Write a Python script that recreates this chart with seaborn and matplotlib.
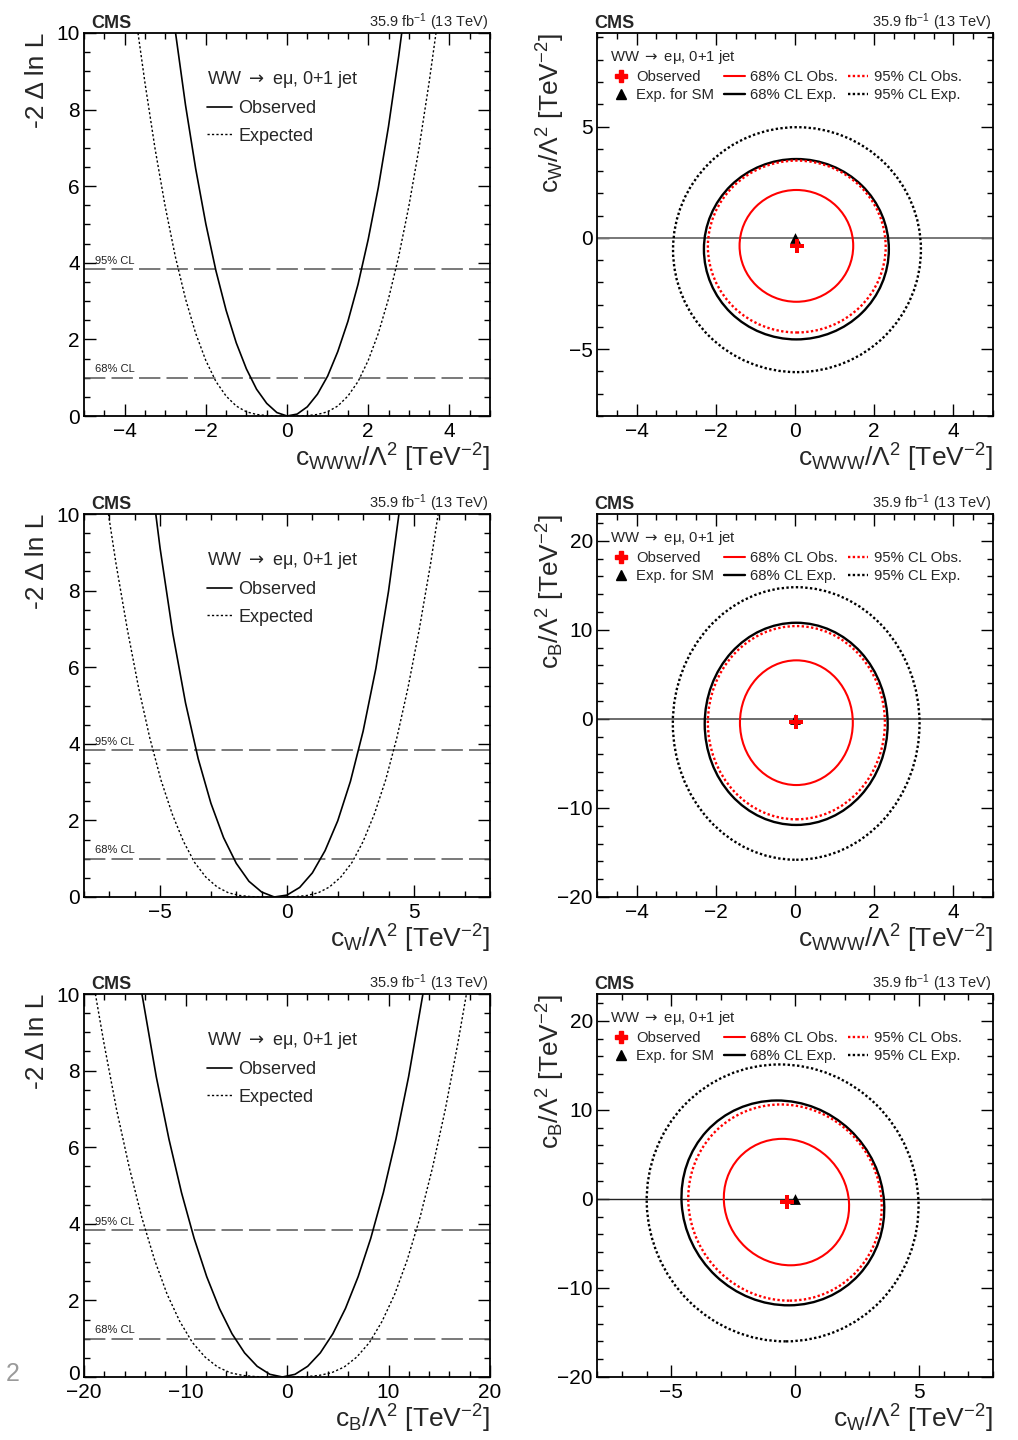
import matplotlib
matplotlib.use("Agg")
import matplotlib.pyplot as plt
import matplotlib.transforms as mtransforms
from matplotlib.patches import Ellipse
from matplotlib.lines import Line2D
from matplotlib.ticker import MultipleLocator
import pandas as pd
import seaborn as sns

# ------------------------------------------------------------------ data
# 1D likelihood scans  (-2 Delta ln L)
cwww_obs_x = [-2.75, -2.5, -2.25, -2.0, -1.75, -1.5, -1.25, -1.0, -0.75, -0.5, -0.25, 0.0,
              0.25, 0.5, 0.75, 1.0, 1.25, 1.5, 1.75, 2.0, 2.25, 2.5, 2.75, 2.9]
cwww_obs_y = [10.04, 8.12, 6.46, 5.02, 3.79, 2.76, 1.91, 1.23, 0.70, 0.33, 0.09, 0.0,
              0.05, 0.24, 0.57, 1.04, 1.68, 2.47, 3.44, 4.61, 5.97, 7.56, 9.39, 10.6]
cwww_exp_x = [-3.7, -3.5, -3.25, -3.0, -2.75, -2.5, -2.25, -2.0, -1.75, -1.5, -1.25, -1.0, -0.75, -0.5,
              -0.25, 0.0, 0.25, 0.5, 0.75, 1.0, 1.25, 1.5, 1.75, 2.0, 2.25, 2.5, 2.75, 3.0, 3.25, 3.5, 3.7]
cwww_exp_y = [10.23, 8.71, 6.98, 5.47, 4.16, 3.06, 2.16, 1.45, 0.90, 0.52, 0.26, 0.11, 0.04, 0.01,
              0.0, 0.0, 0.0, 0.01, 0.04, 0.11, 0.26, 0.52, 0.90, 1.45, 2.16, 3.06, 4.16, 5.47, 6.98, 8.71, 10.23]

cw_obs_x = [-5.4, -5.0, -4.5, -4.0, -3.5, -3.0, -2.5, -2.0, -1.5, -1.0, -0.5, 0.0,
            0.5, 1.0, 1.5, 2.0, 2.5, 3.0, 3.5, 4.0, 4.5]
cw_obs_y = [11.2, 9.10, 6.88, 5.07, 3.61, 2.45, 1.55, 0.88, 0.41, 0.13, 0.0, 0.05,
            0.25, 0.63, 1.21, 1.99, 3.02, 4.33, 5.96, 7.98, 10.43]
cw_exp_x = [-7.09, -6.74, -6.29, -5.85, -5.41, -4.97, -4.52, -4.08, -3.64, -3.20, -2.75, -2.31, -1.87,
            -1.43, -0.98, -0.54, -0.10, 0.35, 0.79, 1.23, 1.67, 2.12, 2.56, 3.00, 3.44, 3.89, 4.33,
            4.77, 5.21, 5.66, 6.01]
cw_exp_y = [10.23, 8.71, 6.98, 5.47, 4.16, 3.06, 2.16, 1.45, 0.90, 0.52, 0.26, 0.11, 0.04, 0.01,
            0.0, 0.0, 0.0, 0.01, 0.04, 0.11, 0.26, 0.52, 0.90, 1.45, 2.16, 3.06, 4.16, 5.47, 6.98, 8.71, 10.23]

cb_obs_x = [-14.37, -12.88, -11.63, -10.39, -9.15, -7.91, -6.66, -5.42, -4.18, -2.94, -1.69, -0.45,
            0.79, 2.04, 3.28, 4.52, 5.76, 7.01, 8.25, 9.49, 10.73, 11.98, 13.47]
cb_obs_y = [10.12, 7.84, 6.21, 4.81, 3.62, 2.62, 1.79, 1.13, 0.63, 0.28, 0.07, 0.0,
            0.07, 0.28, 0.63, 1.13, 1.79, 2.62, 3.62, 4.81, 6.21, 7.84, 10.12]
cb_exp_x = [-19.03, -18.03, -16.79, -15.54, -14.30, -13.05, -11.81, -10.56, -9.32, -8.07, -6.83, -5.58,
            -4.34, -3.09, -1.85, -0.6, 0.65, 1.89, 3.14, 4.38, 5.63, 6.87, 8.12, 9.36, 10.61, 11.85,
            13.10, 14.34, 15.59, 16.83, 17.83]
cb_exp_y = [10.23, 8.71, 6.98, 5.47, 4.16, 3.06, 2.16, 1.45, 0.90, 0.52, 0.26, 0.11, 0.04, 0.01,
            0.0, 0.0, 0.0, 0.01, 0.04, 0.11, 0.26, 0.52, 0.90, 1.45, 2.16, 3.06, 4.16, 5.47, 6.98, 8.71, 10.23]

cl_levels = [1.0, 3.84]
cl_names = ["68% CL", "95% CL"]

# 2D contours, order: 95% CL Exp., 68% CL Exp., 95% CL Obs., 68% CL Obs.
# each: (centre x, centre y, half width, half height, tilt in degrees)
cwww_cw_ell = [(0.05, -0.53, 3.13, 5.50, 0.0), (0.035, -0.51, 2.335, 4.05, 0.0),
               (0.045, -0.39, 2.245, 3.86, 0.0), (0.035, -0.36, 1.435, 2.51, 0.0)]
cwww_cw_best = (0.04, -0.35)
cwww_cb_ell = [(0.03, -0.52, 3.115, 15.3, 0.0), (0.03, -0.56, 2.31, 11.35, 0.0),
               (0.035, -0.43, 2.235, 10.85, 0.0), (0.035, -0.43, 1.425, 7.0, 0.0)]
cwww_cb_best = (0.03, -0.34)
cw_cb_ell = [(-0.50, -0.455, 5.49, 15.545, 0.5), (-0.49, -0.455, 4.09, 11.5, 1.3),
             (-0.405, -0.415, 3.905, 11.015, 1.0), (-0.345, -0.36, 2.525, 7.1, 1.5)]
cw_cb_best = (-0.31, -0.38)
sm_point = (0.0, 0.0)

# ------------------------------------------------------------------ style
sns.set_theme(style="ticks")
plt.rcParams["font.family"] = ["Liberation Sans", "DejaVu Sans"]
plt.rcParams["mathtext.fontset"] = "custom"
plt.rcParams["mathtext.rm"] = "Liberation Sans"
plt.rcParams["mathtext.it"] = "Liberation Sans"
plt.rcParams["mathtext.bf"] = "Liberation Sans:bold"
plt.rcParams["mathtext.sf"] = "DejaVu Sans"
plt.rcParams["axes.unicode_minus"] = True

lab_cwww = r"$c_{WWW}/\Lambda^{2}$ [TeV$^{-2}$]"
lab_cw = r"$c_{W}/\Lambda^{2}$ [TeV$^{-2}$]"
lab_cb = r"$c_{B}/\Lambda^{2}$ [TeV$^{-2}$]"
lab_nll = "-2 Δ ln L"
proc = r"WW $\mathsf{\rightarrow}$ eμ, 0+1 jet"

fig = plt.figure(figsize=(10.18, 14.4), dpi=100)
W, H = 1018.0, 1440.0


def make_axes(col, row):
    x0 = 84 if col == 0 else 597
    w = 406 if col == 0 else 396
    top = [33, 514, 994][row]
    return fig.add_axes([x0 / W, 1 - (top + 383) / H, w / W, 383 / H])


def style(ax, xlim, ylim, xmaj, xmin, ymaj, ymin):
    ax.set_xlim(*xlim)
    ax.set_ylim(*ylim)
    ax.xaxis.set_major_locator(MultipleLocator(xmaj))
    ax.xaxis.set_minor_locator(MultipleLocator(xmin))
    ax.yaxis.set_major_locator(MultipleLocator(ymaj))
    ax.yaxis.set_minor_locator(MultipleLocator(ymin))
    ax.tick_params(which="both", direction="in", top=True, right=True,
                   colors="black", width=1.0, labelsize=15)
    ax.tick_params(which="major", length=8.5)
    ax.tick_params(which="minor", length=4.5)
    ax.tick_params(axis="x", pad=4.5)
    ax.tick_params(axis="y", pad=3)
    for s in ax.spines.values():
        s.set_linewidth(1.3)
        s.set_color("black")
    ax.set_facecolor("white")


def header(ax, cms_x):
    ax.text(cms_x, 1.013, "CMS", transform=ax.transAxes, fontsize=13,
            fontweight="bold", ha="left", va="baseline")
    ax.text(0.995, 1.015, r"35.9 fb$^{-1}$ (13 TeV)", transform=ax.transAxes,
            fontsize=10.5, ha="right", va="baseline")


def labels(ax, xl, yl, ylx):
    ax.set_xlabel(xl, fontsize=19, loc="right")
    ax.xaxis.set_label_coords(1.0, -0.068)
    ax.xaxis.label.set_va("top")
    ax.set_ylabel(yl, fontsize=19, loc="top")
    ax.yaxis.set_label_coords(ylx, 1.0)


# ------------------------------------------------------------------ 1D scans
scans = [
    (cwww_obs_x, cwww_obs_y, cwww_exp_x, cwww_exp_y, (-5, 5), 2, 0.5, lab_cwww),
    (cw_obs_x, cw_obs_y, cw_exp_x, cw_exp_y, (-8, 8), 5, 1, lab_cw),
    (cb_obs_x, cb_obs_y, cb_exp_x, cb_exp_y, (-20, 20), 10, 2, lab_cb),
]
left_axes = []
for row, (ox, oy, ex, ey, xl, xmaj, xmin, xlab) in enumerate(scans):
    ax = make_axes(0, row)
    left_axes.append(ax)
    style(ax, xl, (0, 10), xmaj, xmin, 2, 0.5)
    trans = mtransforms.blended_transform_factory(ax.transAxes, ax.transData)
    for lev, nm in zip(cl_levels, cl_names):
        ax.axhline(lev, color="#555555", lw=1.1, dashes=(14, 4), zorder=1)
        ax.text(0.027, lev + 0.14, nm, transform=trans, fontsize=8,
                color="#222222", ha="left", va="baseline")
    sns.lineplot(x=ex, y=ey, ax=ax, color="black", lw=1.0, sort=False,
                 estimator=None, linestyle=(0, (1.6, 1.6)))
    sns.lineplot(x=ox, y=oy, ax=ax, color="black", lw=1.2, sort=False, estimator=None)
    handles = [Line2D([], [], color="black", lw=1.2),
               Line2D([], [], color="black", lw=1.0, linestyle=(0, (1.6, 1.6)))]
    ax.legend(handles, ["Observed", "Expected"], title=proc, loc="upper left",
              bbox_to_anchor=(0.303, 0.906), frameon=False, fontsize=13,
              title_fontsize=13, alignment="left", borderpad=0, borderaxespad=0,
              handlelength=1.4, handletextpad=0.35, labelspacing=0.57)
    header(ax, 0.017)
    labels(ax, xlab, lab_nll, -0.085)

# ------------------------------------------------------------------ 2D contours
red = "#ff0000"
dot = (0, (1, 1))
contour_styles = [dict(color="black", ls=dot, lw=1.7), dict(color="black", ls="-", lw=1.7),
                  dict(color=red, ls=dot, lw=1.7), dict(color=red, ls="-", lw=1.5)]


def legend2d(ax):
    handles = [Line2D([], [], ls="none", marker="P", color=red, ms=9),
               Line2D([], [], ls="none", marker="^", color="black", ms=7),
               Line2D([], [], color=red, lw=1.5),
               Line2D([], [], color="black", lw=1.7),
               Line2D([], [], color=red, lw=1.7, ls=dot),
               Line2D([], [], color="black", lw=1.7, ls=dot)]
    labs = ["Observed", "Exp. for SM", "68% CL Obs.", "68% CL Exp.", "95% CL Obs.", "95% CL Exp."]
    ax.legend(handles, labs, title=proc, ncol=3, loc="upper left",
              bbox_to_anchor=(0.034, 0.962), frameon=False, fontsize=10.7,
              title_fontsize=10.7, alignment="left", borderpad=0, borderaxespad=0,
              handlelength=1.4, handletextpad=0.35, labelspacing=0.3, columnspacing=0.65)


def markers(ax, best):
    sns.scatterplot(x=[sm_point[0]], y=[sm_point[1]], ax=ax, marker="^", color="black",
                    s=60, linewidth=0, zorder=5)
    sns.scatterplot(x=[best[0]], y=[best[1]], ax=ax, marker="P", color=red,
                    s=110, linewidth=0, zorder=6)


panels2d = [
    (0, cwww_cw_ell, cwww_cw_best, (-5, 5), 2, 0.5, (-8, 9.2), 5, 1, lab_cwww, lab_cw, "#777777", 1.4),
    (1, cwww_cb_ell, cwww_cb_best, (-5, 5), 2, 0.5, (-20, 23), 10, 2, lab_cwww, lab_cb, "#444444", 1.1),
    (2, cw_cb_ell, cw_cb_best, (-8, 8), 5, 1, (-20, 23), 10, 2, lab_cw, lab_cb, "#222222", 1.0),
]
for row, ells, best, xl, xmaj, xmin, yl, ymaj, ymin, xlab, ylab, hcol, hlw in panels2d:
    ax = make_axes(1, row)
    style(ax, xl, yl, xmaj, xmin, ymaj, ymin)
    ax.axhline(0, color=hcol, lw=hlw, zorder=1)
    for (cx, cy, hw, hh, ang), st in zip(ells, contour_styles):
        ax.add_patch(Ellipse((cx, cy), 2 * hw, 2 * hh, angle=ang, fill=False,
                             edgecolor=st["color"], linestyle=st["ls"], lw=st["lw"], zorder=3))
    markers(ax, best)
    legend2d(ax)
    header(ax, -0.008)
    labels(ax, xlab, ylab, -0.076)

fig.text(12.5 / W, 1 - 1374 / H, "2", color="#9a9a9a", fontsize=18, ha="center", va="center")

# lift the "0" y tick label of the bottom-left panel slightly, clear of the "-20" x label
fig.canvas.draw()
ax_bl = left_axes[2]
for t in ax_bl.yaxis.get_major_ticks():
    if abs(t.get_loc()) < 1e-9:
        t.label1.set_transform(t.label1.get_transform() +
                               mtransforms.ScaledTranslation(0, 3.2 / 72, fig.dpi_scale_trans))

fig.savefig("out.png", dpi=100, facecolor="white")
